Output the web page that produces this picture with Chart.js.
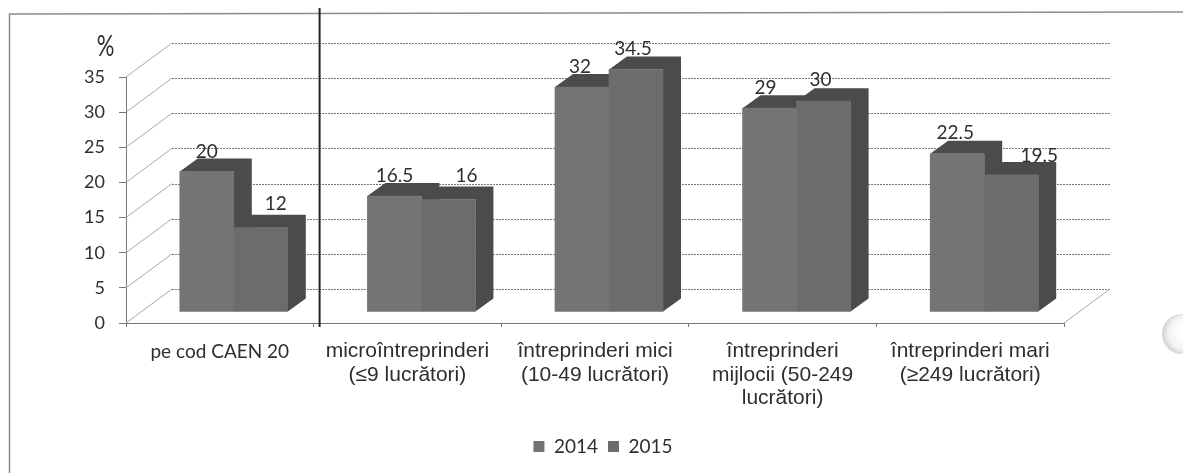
<!DOCTYPE html>
<html>
<head>
<meta charset="utf-8">
<style>
  html, body { margin: 0; padding: 0; background: #fff; }
  #wrap { width: 1183px; height: 473px; }
</style>
<script src="https://cdn.jsdelivr.net/npm/chart.js@4"></script>
</head>
<body>
<div id="wrap"><canvas id="chart" width="1183" height="473"></canvas></div>
<script>
// Data
const categories = [
    'pe cod CAEN 20',
    ['microîntreprinderi', '(≤9 lucrători)'],
    ['întreprinderi mici', '(10-49 lucrători)'],
    ['întreprinderi', 'mijlocii (50-249', 'lucrători)'],
    ['întreprinderi mari', '(≥249 lucrători)']
];
const values2014 = [20, 16.5, 32, 29, 22.5];
const values2015 = [12, 16, 34.5, 30, 19.5];
const valueTicks = [0, 5, 10, 15, 20, 25, 30, 35];

// 3D look
const barShift = { x: 14, y: -11 };
const barDepth = { x: 18, y: -13 };
const wallDepth = { x: 46, y: -34 };
// data labels do not sit the same way on every bar in the original
const labelNudge2014 = [0, 0, -2, -4, -2];
const labelNudge2015 = [15, 18, -3, -3, 28];
const labelLift2014 = [7, 7.5, 7, 7, 7.5];
const labelLift2015 = [11, 11, 8, 8, 6.5];

const textColor = '#2e2e2e';
const calibri = 'Lato, sans-serif';
const arial = '"Liberation Sans", Arial, sans-serif';

// Frame, back wall and floor, behind everything
const wallPlugin = {
    id: 'wall',
    afterLayout(chart) {
        // legend sits right of the plot centre in the original
        chart.legend.left += 71;
        chart.legend.right += 71;
    },
    beforeDatasetsDraw(chart) {
        const { ctx, scales: { x, y } } = chart;
        ctx.save();

        // frame runs off the right and bottom of the page
        ctx.strokeStyle = '#8c8c8c';
        ctx.lineWidth = 1.5;
        ctx.beginPath();
        ctx.moveTo(9.5, 473);
        ctx.lineTo(9.5, 14);
        ctx.lineTo(1183, 12);
        ctx.stroke();

        // the round blob cut off at the right edge of the scan
        const blob = ctx.createRadialGradient(1188, 330, 8, 1184, 334, 21);
        blob.addColorStop(0, '#ffffff');
        blob.addColorStop(0.7, '#f2f2f2');
        blob.addColorStop(1, '#d4d4d4');
        ctx.fillStyle = blob;
        ctx.beginPath();
        ctx.arc(1182, 334, 20, 0, Math.PI * 2);
        ctx.fill();

        valueTicks.forEach(function (v) {
            const py = y.getPixelForValue(v);
            ctx.lineWidth = 1;
            ctx.setLineDash([]);
            ctx.strokeStyle = '#a8a8a8';
            ctx.beginPath();
            ctx.moveTo(x.left, py);
            ctx.lineTo(x.left + wallDepth.x, py + wallDepth.y);
            ctx.stroke();

            ctx.setLineDash([2, 1]);
            ctx.strokeStyle = '#777';
            ctx.beginPath();
            ctx.moveTo(x.left + wallDepth.x, Math.round(py + wallDepth.y) + 0.5);
            ctx.lineTo(x.right + wallDepth.x, Math.round(py + wallDepth.y) + 0.5);
            ctx.stroke();
        });

        // floor
        const y0 = y.getPixelForValue(0);
        ctx.setLineDash([]);
        ctx.strokeStyle = '#a8a8a8';
        ctx.beginPath();
        ctx.moveTo(x.right, y0);
        ctx.lineTo(x.right + wallDepth.x, y0 + wallDepth.y);
        ctx.stroke();
        ctx.setLineDash([2, 1]);
        ctx.strokeStyle = '#777';
        ctx.beginPath();
        ctx.moveTo(x.left, y0 + 0.5);
        ctx.lineTo(x.right, y0 + 0.5);
        ctx.stroke();
        ctx.setLineDash([]);

        // top and side faces of each bar
        ctx.fillStyle = '#4b4b4b';
        chart.data.datasets.forEach(function (ds, i) {
            chart.getDatasetMeta(i).data.forEach(function (bar) {
                const half = bar.width / 2;
                const l = bar.x - half + barShift.x;
                const r = bar.x + half + barShift.x;
                const t = bar.y + barShift.y;
                const b = bar.base + barShift.y;
                ctx.beginPath();
                ctx.moveTo(l, t);
                ctx.lineTo(l + barDepth.x, t + barDepth.y);
                ctx.lineTo(r + barDepth.x, t + barDepth.y);
                ctx.lineTo(r + barDepth.x, b + barDepth.y);
                ctx.lineTo(r, b);
                ctx.lineTo(r, t);
                ctx.closePath();
                ctx.fill();
            });
        });

        ctx.restore();
        // front faces get drawn by Chart.js, moved onto the floor
        ctx.save();
        ctx.translate(barShift.x, barShift.y);
    },
    afterDatasetsDraw(chart) {
        const { ctx, scales: { x, y } } = chart;
        ctx.restore();
        ctx.save();

        // value labels
        ctx.fillStyle = textColor;
        ctx.font = '19px ' + calibri;
        ctx.textAlign = 'center';
        ctx.textBaseline = 'middle';
        const nudges = [labelNudge2014, labelNudge2015];
        const lifts = [labelLift2014, labelLift2015];
        chart.data.datasets.forEach(function (ds, i) {
            chart.getDatasetMeta(i).data.forEach(function (bar, j) {
                ctx.fillText(String(ds.data[j]), bar.x + barShift.x + nudges[i][j], bar.y + barShift.y + barDepth.y - lifts[i][j]);
            });
        });

        // % unit above the axis, tall and narrow in the scan
        ctx.save();
        ctx.translate(105.5, 46);
        ctx.scale(1, 1.35);
        ctx.font = '22px ' + calibri;
        ctx.fillText('%', 0, 0);
        ctx.restore();

        // divider between the sector total and the size classes
        ctx.strokeStyle = '#222';
        ctx.lineWidth = 2;
        ctx.beginPath();
        const lineX = x.getPixelForValue(0.5) + 6;
        ctx.moveTo(lineX, 8);
        ctx.lineTo(lineX, y.getPixelForValue(0) + 4);
        ctx.stroke();
        ctx.restore();
    }
};

new Chart(document.getElementById('chart'), {
    type: 'bar',
    data: {
        labels: categories,
        datasets: [
            { label: '2014', data: values2014, backgroundColor: '#747474' },
            { label: '2015', data: values2015, backgroundColor: '#6c6c6c' }
        ]
    },
    plugins: [wallPlugin],
    options: {
        responsive: false,
        animation: false,
        layout: { padding: { top: 77, right: 119, left: 0, bottom: 7 } },
        datasets: { bar: { barThickness: 54, borderWidth: 0 } },
        scales: {
            x: {
                afterFit: function (s) { s.height = 104; },
                grid: { drawOnChartArea: false, tickLength: 4, color: '#777' },
                border: { color: '#777' },
                ticks: {
                    color: textColor,
                    maxRotation: 0,
                    autoSkip: false,
                    padding: 13,
                    font: function (c) {
                        return c.index === 0
                            ? { family: calibri, size: 19, lineHeight: 1.22 }
                            : { family: arial, size: 21, lineHeight: 1.11 };
                    }
                }
            },
            y: {
                min: 0,
                max: 35,
                afterFit: function (s) { s.width = 126; },
                afterBuildTicks: function (s) { s.ticks = valueTicks.map(function (v) { return { value: v }; }); },
                grid: { drawOnChartArea: false, tickLength: 7, color: '#777' },
                border: { color: '#777' },
                ticks: { color: textColor, padding: 14, font: { family: calibri, size: 18 } }
            }
        },
        plugins: {
            tooltip: { enabled: false },
            legend: {
                position: 'bottom',
                labels: {
                    color: textColor,
                    boxWidth: 11,
                    boxHeight: 11,
                    padding: 10,
                    font: { family: calibri, size: 19 }
                }
            }
        }
    }
});
</script>
</body>
</html>
